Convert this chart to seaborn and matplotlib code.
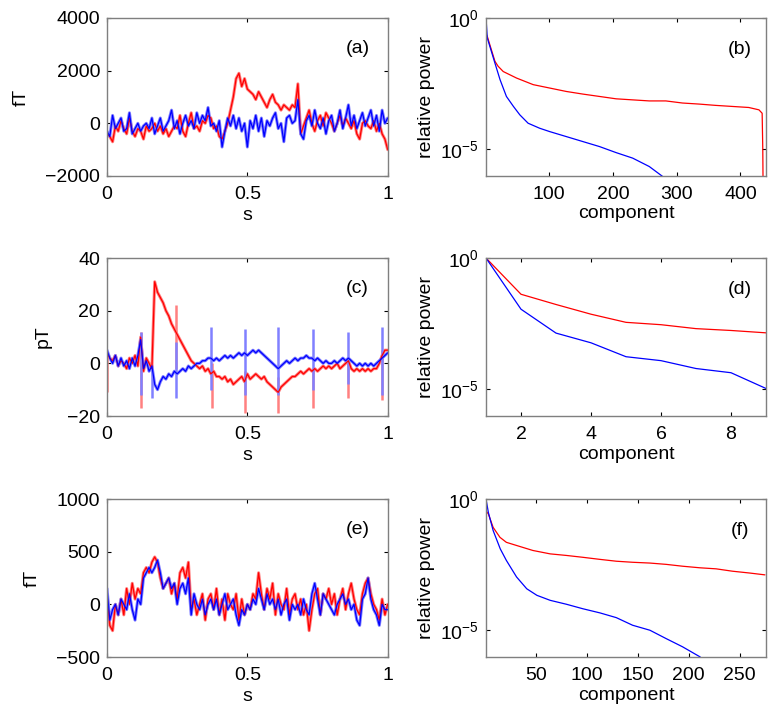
import numpy as np
import pandas as pd
import matplotlib
matplotlib.use("Agg")
import matplotlib.pyplot as plt
import seaborn as sns

# ---------------- data ----------------
t = [round(i * 0.01, 2) for i in range(101)]

a_red = [-400, -500, -700, -100, -300, 100, -200, -400, 200, -300, -500, -200, -300, -600, -100, -300,
         -200, 0, -300, -100, -400, -200, -500, -300, -100, -200, 300, -300, -500, 0, 400, -200, -100,
         -300, 100, 0, 300, 200, -200, -100, -500, -600, -300, 0, 500, 1000, 1700, 1900, 1400, 1700,
         1300, 1200, 1100, 900, 1200, 1000, 800, 600, 900, 1100, 800, 700, 500, 700, 600, 500, 700,
         600, 1500, -400, -100, 200, 500, 0, -300, 100, 300, -100, 400, 200, 0, -300, 0, 300, -100,
         200, 0, -200, 100, -400, -600, 0, 100, -100, -200, 100, -300, 0, -400, -600, -1000]
a_blue = [-300, -500, 300, -200, 0, 200, -300, -200, 400, -400, -200, 0, -300, -100, 0, -200, 200,
          -400, -100, 200, -300, -100, 100, 500, -200, 100, -400, 0, 300, -100, 100, -200, 400, 0,
          300, 100, 600, -100, 0, -300, 100, -900, -300, 200, -100, 300, -200, 200, -300, 0, -900,
          100, -200, 300, -300, 200, -500, 100, -100, 200, 400, -200, 0, -700, 200, 300, 0, 100, 900,
          -400, -600, 100, 300, -100, 500, 0, -200, 200, -400, 100, 300, -300, 0, 500, -200, 200, 700,
          -100, 300, -200, 100, 400, -100, 200, 500, -100, 300, -300, 500, 0, 200]

c_red = [4, 2, 1, 3, -1, 1, 0, -2, 2, 0, 3, -1, 10, -3, 2, 0, -2, 31, 27, 25, 23, 20, 18, 15, 13, 11,
         9, 7, 5, 3, 1, 0, -1, -2, -1, -3, -2, -4, -3, -5, -5, -6, -5, -7, -6, -8, -7, -6, -5, -7, -4,
         -6, -5, -4, -5, -6, -5, -7, -8, -9, -10, -11, -9, -8, -7, -6, -5, -5, -4, -3, -4, -3, -2, -3,
         -2, -3, -2, -1, -2, -1, -2, -1, 0, -2, -1, 0, 1, -2, -3, -2, -3, -2, -3, -2, -3, -2, -2, 0, 3,
         5, 5]
c_blue = [5, 2, 0, 3, -1, 2, -1, 1, -2, 2, -1, 3, 9, -2, 1, -3, -1, -8, -10, -7, -5, -6, -4, -5, -3,
          -4, -3, -2, -3, -1, -2, -1, 0, 0, 1, 1, 2, 2, 1, 2, 1, 2, 3, 2, 3, 2, 3, 4, 3, 4, 3, 4, 5, 4,
          5, 4, 3, 2, 1, 0, -1, -2, -1, 0, 1, 0, 1, 2, 1, 2, 2, 3, 2, 2, 1, 2, 1, 0, 1, 0, 0, 1, 0, 1,
          2, 1, 2, 1, 0, -1, 0, -1, 0, -1, 0, -1, 0, 1, 2, 3, 4]
c_red_spike_t = [0.0, 0.12, 0.245, 0.375, 0.49, 0.61, 0.735, 0.86, 0.98]
c_red_spike_lo = [-11, -17, -2, -17, -19, -19, -17, -13, -14]
c_red_spike_hi = [4, 12, 22, 0, -3, -5, -2, 0, 5]
c_blue_spike_t = [0.12, 0.16, 0.245, 0.37, 0.49, 0.61, 0.735, 0.86, 0.98]
c_blue_spike_lo = [-12, -13, -13, -10, -12, -12, -10, -8, -12]
c_blue_spike_hi = [12, -2, 8, 14, 13, 14, 13, 12, 14]

e_red = [100, -200, -250, 0, -100, 50, -100, 150, 0, 200, 50, 150, 100, 300, 350, 300, 400, 450, 400,
         250, 150, 200, 250, 100, 200, 50, 300, 350, 250, 400, -50, 50, -100, 0, 100, -150, 50, 100,
         -50, 150, -100, 50, -150, 100, 0, -50, 100, -150, 50, -100, 0, -50, 100, 50, 300, 100, -50,
         150, 50, 200, -100, 100, 0, -50, 150, -100, 50, 100, -50, 50, -100, 0, -250, -50, 100, 150,
         -100, 100, 50, 150, 0, 100, -100, 50, 150, -50, 100, 200, 50, -50, -100, 100, 200, 250, 100,
         0, -50, -150, 50, -100, 0]
e_blue = [150, -150, -50, 0, -100, 50, 0, -50, 100, -50, -150, 50, 0, 250, 300, 350, 300, 350, 420,
          300, 150, 200, 250, 150, 200, 0, 150, 200, 100, 250, -100, 100, 0, -50, 50, -100, 0, 50, -50,
          50, -100, 0, 100, -50, 0, 50, -100, -200, -50, -100, 0, -50, 50, 0, 150, 50, -50, 100, 0, 50,
          -50, 50, -100, 0, 50, -150, 0, -50, 0, -100, 50, -50, -100, 100, 200, 50, -100, 100, 50, 0,
          -50, -100, 0, 50, 100, 0, 50, -50, 0, -150, -200, 50, 100, 250, 50, -50, -100, -200, 0, -50,
          -50]

# spectra (component, log10 relative power)
b_red_x = [1, 3, 7, 15, 20, 28, 49, 75, 101, 127, 153, 179, 205, 231, 257, 283, 309, 335, 361, 387,
           413, 429, 434, 435, 436]
b_red_y = [-0.6, -0.70, -1.02, -1.65, -1.84, -2.04, -2.29, -2.54, -2.67, -2.80, -2.90, -2.99, -3.08,
           -3.12, -3.16, -3.16, -3.24, -3.28, -3.33, -3.37, -3.41, -3.50, -3.63, -5.0, -8.0]
b_blue_x = [1, 3, 7, 15, 23, 33, 44, 54, 67, 85, 101, 127, 153, 179, 205, 231, 257, 278, 290]
b_blue_y = [0, -0.76, -1.08, -1.72, -2.35, -2.99, -3.37, -3.69, -4.01, -4.20, -4.33, -4.52, -4.71,
            -4.90, -5.13, -5.34, -5.66, -6.04, -6.3]

d_x = [1, 2, 3, 4, 5, 6, 7, 8, 9]
d_red_y = [0, -1.38, -1.77, -2.14, -2.45, -2.54, -2.69, -2.76, -2.85]
d_blue_y = [0, -1.95, -2.86, -3.23, -3.76, -3.91, -4.21, -4.37, -4.97]

f_red_x = [1, 3.3, 8, 14.7, 21, 31, 47, 64, 80, 96, 113, 129, 145, 162, 178, 194, 211, 227, 243, 260, 275]
f_red_y = [-0.45, -0.57, -1.08, -1.46, -1.65, -1.77, -1.96, -2.09, -2.15, -2.22, -2.30, -2.37, -2.41,
           -2.44, -2.49, -2.56, -2.62, -2.66, -2.75, -2.82, -2.89]
f_blue_x = [1, 3.3, 8, 15, 21, 31, 41, 51, 64, 80, 96, 113, 129, 145, 162, 178, 194, 211, 220]
f_blue_y = [0, -0.51, -1.20, -1.90, -2.34, -2.97, -3.42, -3.67, -3.86, -4.01, -4.18, -4.34, -4.52,
            -4.81, -5.0, -5.32, -5.63, -6.01, -6.3]

# ---------------- style ----------------
sns.set_theme(style="ticks")
plt.rcParams["font.family"] = ["Liberation Sans", "DejaVu Sans"]
plt.rcParams["mathtext.fontset"] = "custom"
plt.rcParams["mathtext.rm"] = "Liberation Sans"
plt.rcParams["mathtext.it"] = "Liberation Sans"
for key in ["text.color", "axes.labelcolor", "xtick.color", "ytick.color"]:
    plt.rcParams[key] = "black"
FS = 14
RED, LRED = "#ff0000", "#ff8080"
BLUE, LBLUE = "#0000ff", "#8080ff"
SPINE = "#7f7f7f"

fig = plt.figure(figsize=(7.82, 7.2), dpi=100)
W = 0.359
H = 0.2194
lefts = [0.1368, 0.6215]
bottoms = [0.7556, 0.4222, 0.0875]


def style_axes(ax):
    for s in ax.spines.values():
        s.set_color(SPINE)
        s.set_linewidth(1.0)
    ax.tick_params(direction="in", top=True, right=True, length=3, width=0.8,
                   color="black", labelcolor="black", labelsize=FS)
    ax.tick_params(axis="x", pad=7)
    ax.tick_params(axis="y", pad=5)
    ax.set_facecolor("white")


def time_panel(ax, red, blue, ylim, yticks, ylabel, tag, spikes=None):
    df = pd.DataFrame({"t": t + t,
                       "v": list(red) + list(blue),
                       "series": ["red"] * len(t) + ["blue"] * len(t)})
    # light halos
    sns.lineplot(data=df, x="t", y="v", hue="series", palette={"red": LRED, "blue": LBLUE},
                 linewidth=2.2, legend=False, ax=ax, estimator=None, sort=False)
    if spikes is not None:
        for st, lo, hi, col in spikes:
            ax.vlines(st, lo, hi, color=col, linewidth=1.8)
    sns.lineplot(data=df, x="t", y="v", hue="series", palette={"red": RED, "blue": BLUE},
                 linewidth=0.9, legend=False, ax=ax, estimator=None, sort=False)
    ax.set_xlim(0, 1)
    ax.set_ylim(*ylim)
    ax.set_xticks([0, 0.5, 1])
    ax.set_xticklabels(["0", "0.5", "1"])
    ax.set_yticks(yticks)
    ax.set_yticklabels([f"{v:d}".replace("-", "\u2212") for v in yticks])
    ax.set_xlabel("s", fontsize=FS, labelpad=3, color="black")
    ax.set_ylabel(ylabel, fontsize=FS, labelpad=11, color="black")
    ax.text(0.893, 0.81, tag, transform=ax.transAxes, fontsize=FS, ha="center", va="center",
            color="black")
    style_axes(ax)


def spec_panel(ax, rx, ry, bx, by, xlim, xticks, tag):
    df = pd.DataFrame({"c": list(rx) + list(bx),
                       "p": [10.0 ** v for v in ry] + [10.0 ** v for v in by],
                       "series": ["red"] * len(rx) + ["blue"] * len(bx)})
    sns.lineplot(data=df, x="c", y="p", hue="series", palette={"red": RED, "blue": BLUE},
                 linewidth=0.9, legend=False, ax=ax, estimator=None, sort=False)
    ax.set_yscale("log")
    ax.set_ylim(10 ** -6.02, 1)
    ax.set_xlim(*xlim)
    ax.set_yticks([1e-5, 1])
    ax.set_yticklabels([r"$10^{-5}$", r"$10^{0}$"])
    ax.yaxis.set_minor_locator(matplotlib.ticker.NullLocator())
    ax.set_xticks(xticks)
    ax.set_xticklabels([str(v) for v in xticks])
    ax.set_xlabel("component", fontsize=FS, labelpad=2, color="black")
    ax.set_ylabel("relative power", fontsize=FS, labelpad=4, color="black")
    ax.text(0.907, 0.80, tag, transform=ax.transAxes, fontsize=FS, ha="center", va="center",
            color="black")
    style_axes(ax)


ax_a = fig.add_axes([lefts[0], bottoms[0], W, H])
time_panel(ax_a, a_red, a_blue, (-2000, 4000), [-2000, 0, 2000, 4000], "fT", "(a)")
ax_c = fig.add_axes([lefts[0], bottoms[1], W, H])
spk = [(st, lo, hi, LRED) for st, lo, hi in zip(c_red_spike_t, c_red_spike_lo, c_red_spike_hi)]
spk += [(st, lo, hi, LBLUE) for st, lo, hi in zip(c_blue_spike_t, c_blue_spike_lo, c_blue_spike_hi)]
time_panel(ax_c, c_red, c_blue, (-20, 40), [-20, 0, 20, 40], "pT", "(c)", spikes=spk)
ax_e = fig.add_axes([lefts[0], bottoms[2], W, H])
time_panel(ax_e, e_red, e_blue, (-500, 1000), [-500, 0, 500, 1000], "fT", "(e)")

ax_b = fig.add_axes([lefts[1], bottoms[0], 0.358, H])
spec_panel(ax_b, b_red_x, b_red_y, b_blue_x, b_blue_y, (1, 440), [100, 200, 300, 400], "(b)")
ax_d = fig.add_axes([lefts[1], bottoms[1], 0.358, H])
spec_panel(ax_d, d_x, d_red_y, d_x, d_blue_y, (1, 9), [2, 4, 6, 8], "(d)")
ax_f = fig.add_axes([lefts[1], bottoms[2], 0.358, H])
spec_panel(ax_f, f_red_x, f_red_y, f_blue_x, f_blue_y, (1, 276), [50, 100, 150, 200, 250], "(f)")

fig.savefig("out.png", dpi=100, facecolor="white")
